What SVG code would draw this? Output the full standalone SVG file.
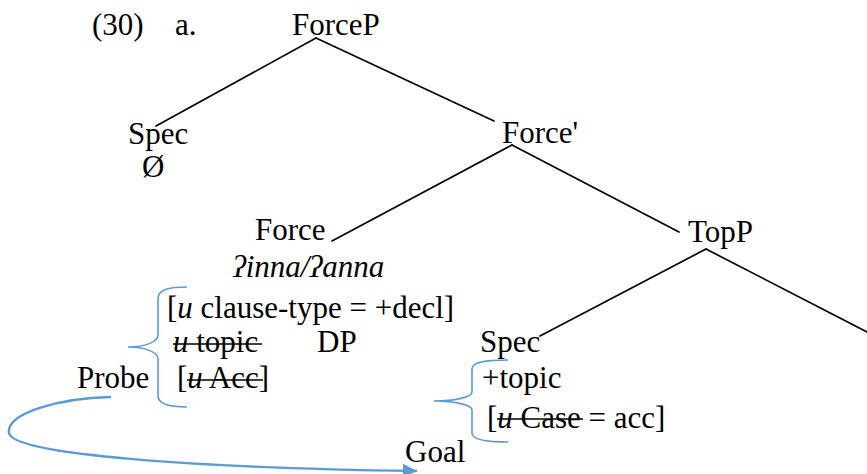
<svg xmlns="http://www.w3.org/2000/svg" width="867" height="474" viewBox="0 0 867 474">
<style>
text{font-family:'Liberation Serif','Times New Roman',Tinos,'DejaVu Serif',serif;font-size:31px;fill:#000}
.it{font-style:italic}
.edge{stroke:#000;stroke-width:1.7;fill:none;stroke-linecap:round}
.brace{stroke:#5B9BD5;stroke-width:1.6;fill:none}
.arrow{stroke:#5B9BD5;stroke-width:2.4;fill:none}
.strike{stroke:#000;stroke-width:1.6}
</style>
<defs>
<marker id="ah" viewBox="0 0 10 10" refX="10" refY="5" markerWidth="6" markerHeight="6" orient="auto" markerUnits="strokeWidth">
<path d="M0,0 L10,5 L0,10 Z" fill="#5B9BD5"/>
</marker>
</defs>
<rect width="867" height="474" fill="#fff"/>
<g id="connectors">
<line class="edge" x1="316" y1="38" x2="156" y2="126"/>
<line class="edge" x1="316" y1="38" x2="494" y2="121"/>
<line class="edge" x1="512" y1="145" x2="332" y2="241"/>
<line class="edge" x1="512" y1="145" x2="679" y2="232"/>
<line class="edge" x1="706" y1="249" x2="540" y2="336"/>
<line class="edge" x1="706" y1="249" x2="867" y2="332"/>
<path class="brace" d="M187,287 C170,287 158,289 158,299 L158,335 C158,342 145,347 128,347 C145,347 158,352 158,359 L158,396 C158,404 170,407 187,407"/>
<path class="brace" d="M508,360 C490,360 472,361 472,369 L472,392 C472,397 455,401 434,401 C455,401 472,405 472,410 L472,433 C472,440 490,442 508,442"/>
<path class="arrow" d="M111,397 C60,398 6,413 9,433 C13,455 200,468 417,471" marker-end="url(#ah)"/>
</g>
<g id="label-30"><text x="92" y="35">(30)</text><text x="175" y="35">a.</text></g>
<g id="ForceP"><text x="292" y="35">ForceP</text></g>
<g id="SpecForce"><text x="128" y="144">Spec</text><text x="142" y="177">Ø</text></g>
<g id="ForceBar"><text x="502" y="143">Force'</text></g>
<g id="Force">
<text x="255" y="240">Force</text>
<text class="it" x="233" y="277">ʔinna/ʔanna</text>
<text x="167" y="318">[<tspan class="it">u</tspan> clause-type = +decl]</text>
<text x="173" y="352"><tspan class="it">u</tspan> topic</text>
<line class="strike" x1="173" y1="344" x2="262" y2="344"/>
<text x="317" y="352">DP</text>
<text x="177" y="388">[<tspan class="it">u</tspan> Acc]</text>
<line class="strike" x1="187" y1="380" x2="263" y2="380"/>
</g>
<g id="Probe"><text x="77" y="388">Probe</text></g>
<g id="TopP"><text x="688" y="242">TopP</text></g>
<g id="SpecTop">
<text x="480" y="352">Spec</text>
<text x="482" y="388">+topic</text>
<text x="487" y="428">[<tspan class="it">u</tspan> Case = acc]</text>
<line class="strike" x1="497" y1="419" x2="583" y2="419"/>
</g>
<g id="Goal"><text x="405" y="462">Goal</text></g>
</svg>
